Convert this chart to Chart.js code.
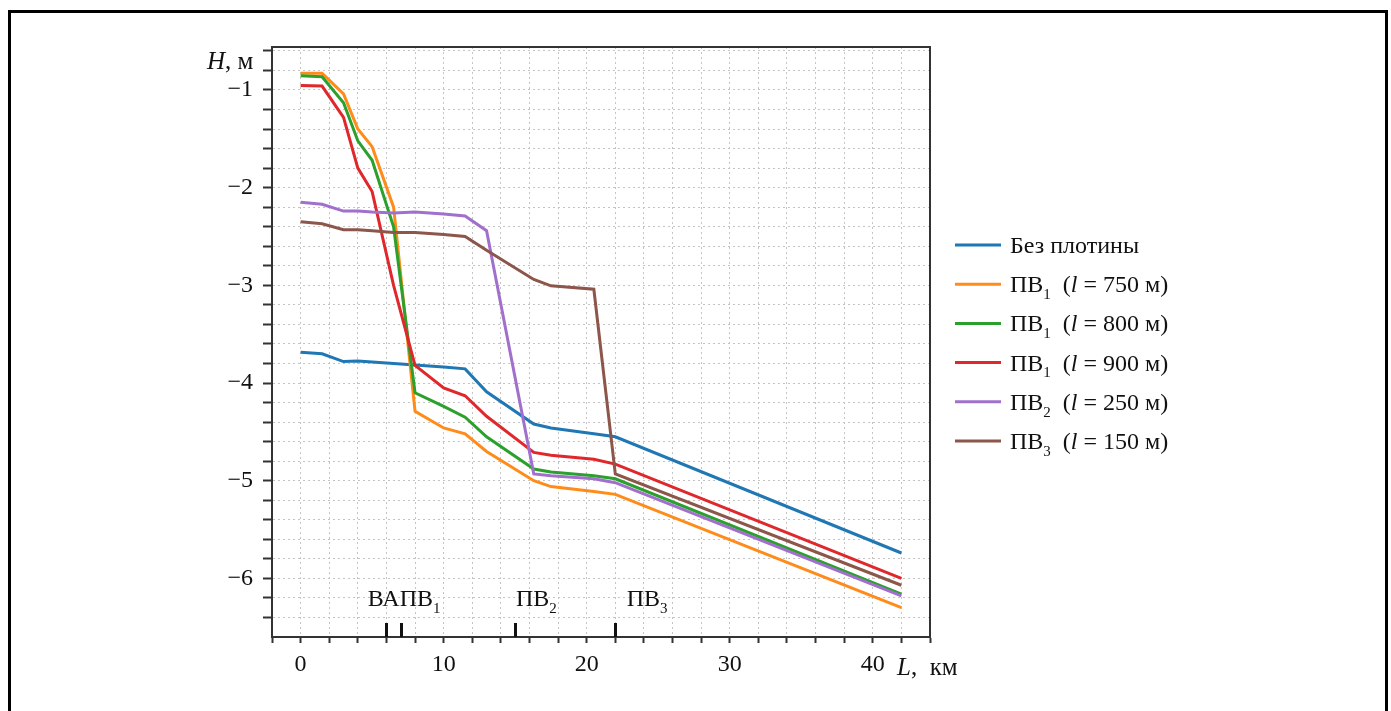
<!DOCTYPE html>
<html><head><meta charset="utf-8">
<script src="https://cdn.jsdelivr.net/npm/chart.js@4"></script>
<style>html,body{margin:0;padding:0;background:#fff;}canvas{display:block;}</style>
</head><body>
<canvas id="c" width="1391" height="711" style="width:1391px;height:711px"></canvas>
<script>
// ---- data ----
const L = [0, 1.5, 3, 4, 5, 6.5, 8, 10, 11.5, 13, 16.3, 17.5, 20.5, 22, 42];
const H_none  = [-3.685, -3.70, -3.78, -3.775, -3.785, -3.80, -3.815, -3.835, -3.855, -4.09, -4.42, -4.46, -4.52, -4.55, -5.74];
const H_pv1_750 = [-0.83, -0.83, -1.04, -1.40, -1.58, -2.20, -4.29, -4.46, -4.52, -4.70, -5.00, -5.06, -5.11, -5.14, -6.30];
const H_pv1_800 = [-0.855, -0.865, -1.13, -1.52, -1.72, -2.40, -4.10, -4.24, -4.35, -4.55, -4.88, -4.91, -4.95, -4.98, -6.16];
const H_pv1_900 = [-0.955, -0.96, -1.28, -1.80, -2.04, -3.00, -3.82, -4.05, -4.13, -4.34, -4.71, -4.74, -4.78, -4.83, -6.00];
const H_pv2_250 = [-2.15, -2.17, -2.24, -2.24, -2.25, -2.26, -2.25, -2.27, -2.29, -2.44, -4.93, -4.95, -4.98, -5.02, -6.18];
const H_pv3_150 = [-2.35, -2.37, -2.43, -2.43, -2.44, -2.46, -2.46, -2.48, -2.50, -2.64, -2.94, -3.005, -3.04, -4.93, -6.07];
const series = [H_none, H_pv1_750, H_pv1_800, H_pv1_900, H_pv2_250, H_pv3_150];
const seriesBase = ['Без плотины', 'ПВ', 'ПВ', 'ПВ', 'ПВ', 'ПВ'];
const seriesSub  = ['', '1', '1', '1', '2', '3'];
const seriesLen  = [null, 750, 800, 900, 250, 150];
const colors = ['#1f77b4', '#ff8c1a', '#2ca02c', '#e0282c', '#a070cc', '#8c564b'];
const xTickLabels = [0, 10, 20, 30, 40];
const yTickLabels = [-1, -2, -3, -4, -5, -6];
const markerBase = ['ВАПВ', 'ПВ', 'ПВ'];
const markerSub  = ['1', '2', '3'];
const markerKm   = [[6, 7], [15], [22]];

// ---- rendering ----
const FONT = '"Liberation Serif", "Times New Roman", serif';
function drawRich(ctx, x, y, segs, size) {
  ctx.textBaseline = 'alphabetic';
  ctx.textAlign = 'left';
  for (const s of segs) {
    const sz = s.sub ? Math.round(size * 0.64) : size;
    ctx.font = (s.it ? 'italic ' : '') + sz + 'px ' + FONT;
    ctx.fillText(s.t, x, s.sub ? y + size * 0.28 : y);
    x += ctx.measureText(s.t).width;
  }
}
const labelKm = [4.7, 15.05, 22.8]; // label anchors (layout)
const deco = {
  id: 'deco',
  afterDraw(chart) {
    const { ctx, chartArea: a, scales: { x, y } } = chart;
    ctx.save();
    ctx.strokeStyle = '#333'; ctx.lineWidth = 2;
    ctx.beginPath(); ctx.moveTo(a.left - 1, a.top); ctx.lineTo(a.right, a.top); ctx.lineTo(a.right, a.bottom + 1); ctx.stroke();
    ctx.fillStyle = '#000';
    ctx.fillRect(8, 10, 3, 701); ctx.fillRect(8, 10, 1380, 3); ctx.fillRect(1385, 10, 3, 701);
    ctx.fillStyle = '#111';
    drawRich(ctx, 207, 69, [{ t: 'H', it: true }, { t: ', м' }], 25);
    drawRich(ctx, 897, 675, [{ t: 'L', it: true }, { t: ',  км' }], 25);
    // structures
    ctx.strokeStyle = '#111'; ctx.lineWidth = 3;
    markerKm.forEach((arr, i) => {
      arr.forEach(km => {
        const px = Math.round(x.getPixelForValue(km)) + 0.5;
        ctx.beginPath(); ctx.moveTo(px, a.bottom - 14); ctx.lineTo(px, a.bottom); ctx.stroke();
      });
      drawRich(ctx, x.getPixelForValue(labelKm[i]), 606, [{ t: markerBase[i] }, { t: markerSub[i], sub: true }], 24);
    });
    // legend
    series.forEach((s, i) => {
      const cy = 245 + i * 39.2;
      ctx.strokeStyle = colors[i]; ctx.lineWidth = 3;
      ctx.beginPath(); ctx.moveTo(955, cy); ctx.lineTo(1001, cy); ctx.stroke();
      const segs = [{ t: seriesBase[i] }];
      if (seriesSub[i]) {
        segs.push({ t: seriesSub[i], sub: true }, { t: '  (' }, { t: 'l', it: true }, { t: ' = ' + seriesLen[i] + ' м)' });
      }
      ctx.fillStyle = '#111';
      drawRich(ctx, 1010, cy + 8, segs, 24);
    });
    ctx.restore();
  }
};

const datasets = series.map((s, i) => ({
  label: seriesBase[i] + seriesSub[i] + (seriesLen[i] ? ' (l = ' + seriesLen[i] + ' м)' : ''),
  data: L.map((km, j) => ({ x: km, y: s[j] })),
  borderColor: colors[i],
  backgroundColor: colors[i],
  borderWidth: 3,
  pointRadius: 0,
  tension: 0,
  fill: false,
  order: 10 - i
}));

new Chart(document.getElementById('c'), {
  type: 'line',
  data: { datasets },
  options: {
    responsive: false,
    animation: false,
    layout: { padding: { left: 212, right: 461, top: 47, bottom: 34 } },
    plugins: { legend: { display: false }, tooltip: { enabled: false } },
    scales: {
      x: {
        type: 'linear', min: -2, max: 44,
        ticks: {
          stepSize: 2, autoSkip: false, maxRotation: 0, color: '#111', padding: 7,
          font: { family: FONT, size: 24 },
          callback: v => xTickLabels.includes(v) ? String(v) : ''
        },
        grid: { color: '#c4c4c4', lineWidth: 1, tickColor: '#333', tickLength: 6, tickWidth: 2, tickBorderDash: [] },
        border: { color: '#333', width: 2, dash: [2, 3] },
        afterFit: s => { s.height = 40; }
      },
      y: {
        type: 'linear', min: -6.6, max: -0.56,
        ticks: {
          stepSize: 0.2, includeBounds: false, autoSkip: false, color: '#111', padding: 10,
          font: { family: FONT, size: 24 },
          callback: v => {
            const r = Math.round(v);
            return (Math.abs(v - r) < 1e-6 && yTickLabels.includes(r)) ? '\u2212' + Math.abs(r) : '';
          }
        },
        grid: { color: '#c4c4c4', lineWidth: 1, tickColor: '#333', tickLength: 9, tickWidth: 2, tickBorderDash: [] },
        border: { color: '#333', width: 2, dash: [2, 3] },
        afterFit: s => { s.width = 60; }
      }
    }
  },
  plugins: [deco]
});
</script>
</body></html>
